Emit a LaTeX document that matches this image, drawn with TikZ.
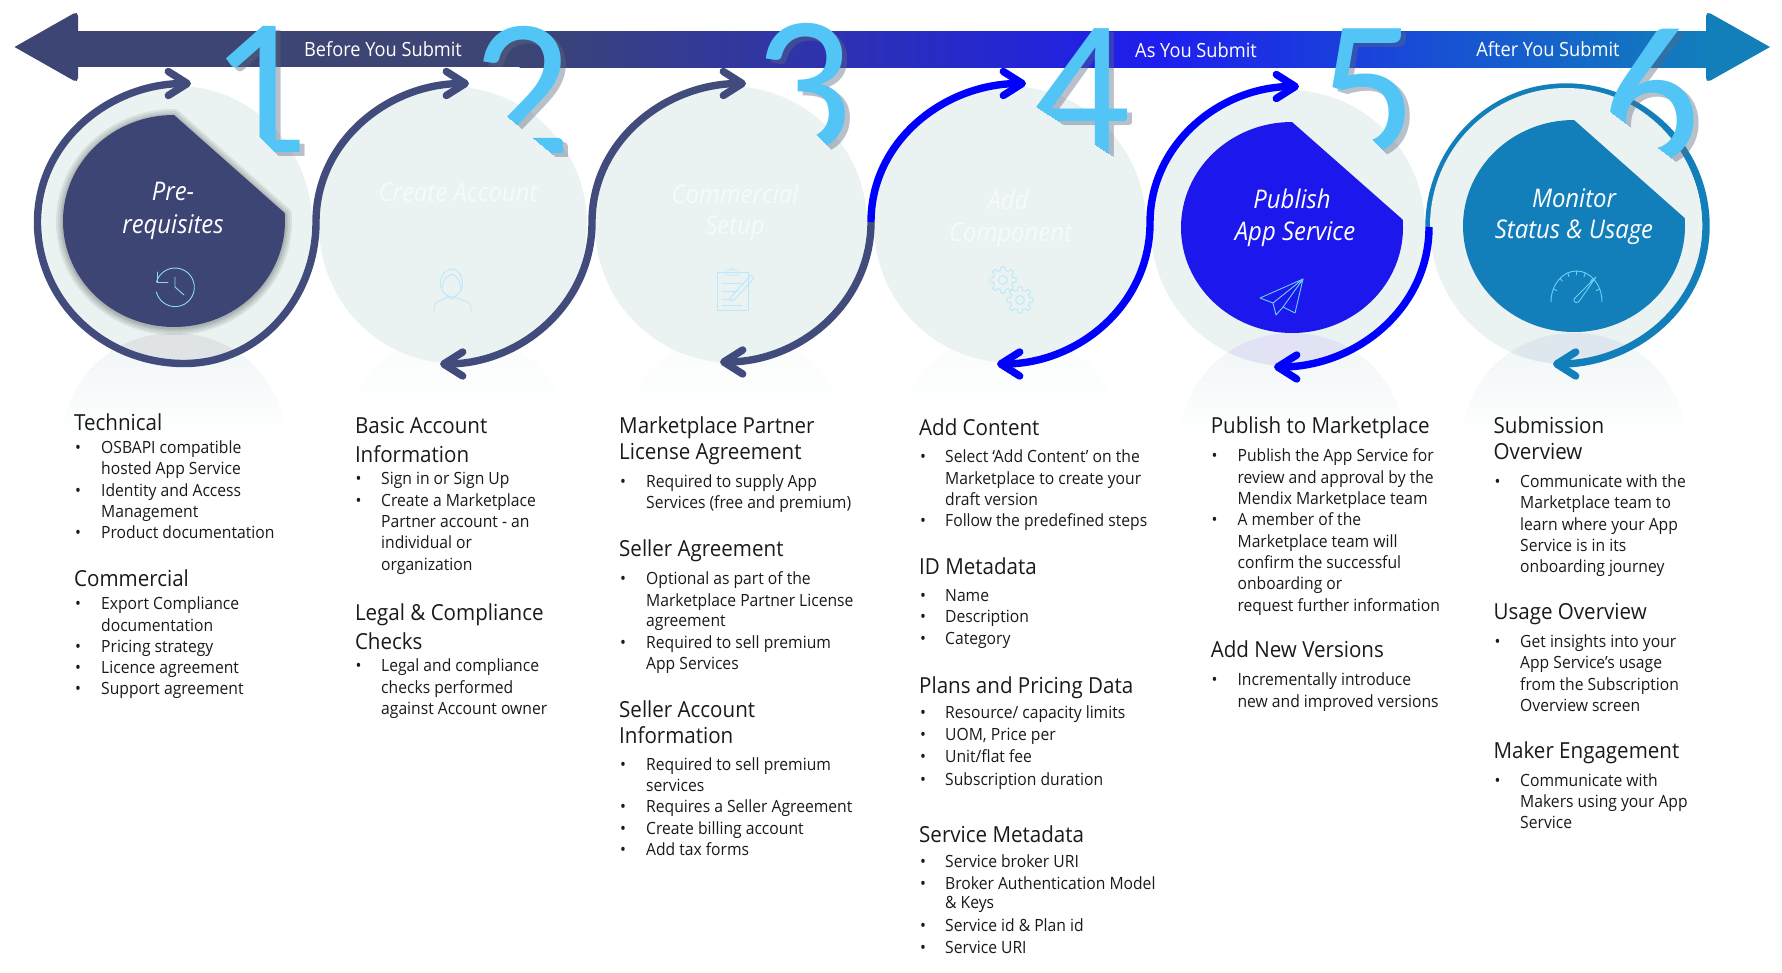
\documentclass[tikz,border=0pt]{standalone}
\usepackage{fontspec}
\setmainfont[FakeStretch=0.93]{Open Sans}
\newfontfamily\digf{Carlito}
\usetikzlibrary{arrows.meta,calc}
\definecolor{navy}{HTML}{3C4573}
\definecolor{ringnavy}{HTML}{414C7C}
\definecolor{ringblue}{HTML}{0000FF}
\definecolor{teal}{HTML}{127FBB}
\definecolor{petalblue}{HTML}{1C17EC}
\definecolor{midblue}{HTML}{1E1EEE}
\definecolor{disc}{HTML}{EAF2F2}
\definecolor{digitc}{HTML}{52C5F6}
\definecolor{ink}{HTML}{1A1A1A}
\definecolor{faded}{HTML}{F6FAFA}
\definecolor{reflA}{HTML}{EFF5F6}
\definecolor{reflB}{HTML}{FAFCFC}
\definecolor{ov1}{HTML}{DFE3E6}
\definecolor{ov5}{HTML}{E2E2F5}
\definecolor{ov6}{HTML}{DEE7EE}
\definecolor{icclock}{HTML}{8FD8F8}
\definecolor{icpale}{HTML}{BCE8FB}
\definecolor{icbright}{HTML}{6ECFF8}
\definecolor{digshadow}{HTML}{5A6A80}
\newcount\tnum
\def\ys{1}
\tikzset{
  x=1pt,y=1pt,
  hd/.style={anchor=base west,inner sep=0pt,text=ink,font=\fontsize{22.1}{24}\selectfont},
  bd/.style={anchor=base west,inner sep=0pt,text=ink,font=\fontsize{16.85}{20}\selectfont},
  bn/.style={anchor=base,inner sep=0pt,text=white,font=\fontsize{19.6}{22}\selectfont},
  lbl/.style={anchor=base,inner sep=0pt,text=white,font=\itshape\fontsize{25.7}{28}\selectfont},
  lblf/.style={lbl,text=faded},
  dig/.style={anchor=base,inner sep=0pt,text=digitc,font=\digf\fontsize{196}{196}\selectfont},
  tipped/.style={-{Straight Barb[round,length=19pt,width=24pt]}},
  ring/.style={line width=7.4pt,line cap=butt},
  icon/.style={line width=.9pt,line join=round,line cap=round,fill=none},
}
\newcommand\hh[2]{\global\advance\tnum by 1 \node[hd] (n\the\tnum) at (\hx,{-(400+(#1-400)*\ys)}) {#2};}
\newcommand\cc[2]{\global\advance\tnum by 1 \node[bd] (n\the\tnum) at (\tx,{-(400+(#1-400)*\ys)}) {#2};}
\newcommand\bb[2]{\global\advance\tnum by 1 \node[bd] (n\the\tnum) at (\bx,{-(400+(#1-400)*\ys)}) {•};\cc{#1}{#2}}
\newcommand\petalpath[4]{(#1,-#2) arc[start angle=90,end angle=364.3,x radius=#3,y radius=#4] -- cycle}
\newcommand\refl[2]{%
  \begin{scope}\clip (#1,-439) ellipse[x radius=111,y radius=106];
  \shade[top color=#2,bottom color=white] (#1-111,-333) rectangle (#1+111,-440);\end{scope}}
\newcommand\overl[5]{%
  \begin{scope}\clip (#1,-439) ellipse[x radius=111,y radius=106];
  \clip (#3,-#4) ellipse[x radius=#5,y radius=138];
  \fill[#2] (#1-111,-333) rectangle (#1+111,-440);\end{scope}}
\newcommand\gearic[3]{\draw[icon,#3] plot[domain=0:360,samples=97] ({#1+(11.5+1.7*min(1,max(-1,3*cos(8*\x))))*cos(\x)},{-#2+(11.5+1.7*min(1,max(-1,3*cos(8*\x))))*sin(\x)});
  \draw[icon,#3] (#1,-#2) circle[radius=4.5];}
% a numeral with its shadow, cut along the slanted edge that hides its lower part
\newcommand\numeral[7]{%
  \begin{scope}\clip (#4,-#5) -- (#6,-#7) -- (#6,0) -- (#4,0) -- cycle;
  \node[dig] (d#3) at (#1,-#2) {\rlap{\pgfsetfillopacity{.42}\color{digshadow}\raisebox{-4pt}{\kern5pt #3}}\pgfsetfillopacity{1}#3};
  \end{scope}}
\begin{document}
\begin{tikzpicture}
\useasboundingbox (0,0) rectangle (1782,-972);
\fill[white] (0,0) rectangle (1782,-972);
% banner
\fill[navy] (14.5,-47) [rounded corners=5] -- (78,-11) -- (78,-83) [sharp corners] -- cycle;
\fill[navy] (76,-31) rectangle (520,-67);
\shade[left color=navy,right color=midblue] (519.5,-31) rectangle (1150,-67);
\shade[left color=midblue,right color=teal] (1149.5,-31) rectangle (1710,-67);
\fill[teal] (1770,-47) [rounded corners=5] -- (1706,-11) -- (1706,-83) [sharp corners] -- cycle;
% named points
\coordinate (J1) at (316,-222);\coordinate (J2) at (592,-222);\coordinate (J3) at (871,-222);
\coordinate (J4) at (1150,-223);\coordinate (J5) at (1429,-227);
\coordinate (T1) at (191,-83.5);\coordinate (T2) at (469,-83.5);\coordinate (T3) at (746,-83.5);
\coordinate (T4) at (1026,-83.5);\coordinate (T5) at (1299,-86.5);
\coordinate (B1) at (440,-364);\coordinate (B2) at (720,-362);\coordinate (B3) at (997,-364);
\coordinate (B4) at (1274,-367);\coordinate (B5) at (1553,-364);
\coordinate (L1) at (37.5,-222);\coordinate (U1) at (184,-363.5);
\coordinate (U6) at (1566,-87);\coordinate (R6) at (1706,-226);
% ring 6 upper part, under the numeral
\draw[ring,teal] (J5) to[out=90,in=180] (U6) to[out=0,in=90] (R6);
% reflections
\refl{174}{reflA}
\refl{458}{reflB}
\refl{735}{reflB}
\refl{1010}{reflB}
\refl{1292}{reflA}
\refl{1574}{reflA}
% discs
\foreach \x/\y/\r in {177/224/135,453/225/134,731/224.5/136,1010/224.5/136,1288/228/137,1566/226/136}{
  \fill[disc] (\x,-\y) ellipse[x radius=\r,y radius=138];
}
\overl{174}{ov1}{177}{224}{135}
\overl{1292}{ov5}{1288}{228}{137}
\overl{1574}{ov6}{1566}{226}{136}
% numerals
\numeral{259}{152}{1}{200}{77}{320}{197}
\numeral{522}{153}{2}{470}{85.5}{590}{185.5}
\numeral{803}{150}{3}{750}{64}{870}{191}
\numeral{1081}{154}{4}{1020}{96.5}{1160}{186.6}
\numeral{1367}{154}{5}{1310}{77}{1430}{197}
\numeral{1651}{161}{6}{1600}{104}{1720}{195}
% petal 1 soft shadow
\foreach \w in {14,10,6,3}{\draw[black,opacity=.07,line width=\w pt,line join=round,yshift=-1pt] \petalpath{174}{115}{111}{106};}
\fill[navy] \petalpath{174}{115}{111}{106};
\fill[petalblue] \petalpath{1292}{122}{111}{105.5};
\fill[teal] \petalpath{1574}{120}{111}{106};
% flow arrows
\draw[ring,ringnavy,tipped] (J1) to[out=-90,in=0] (U1) to[out=180,in=-90] (L1) to[out=90,in=180] (T1);
\draw[ring,ringnavy,tipped] (J1) to[out=90,in=180] (T2);
\draw[ring,ringnavy,tipped] (J2) to[out=-90,in=0] (B1);
\draw[ring,ringnavy,tipped] (J2) to[out=90,in=180] (T3);
\draw[ring,ringnavy,tipped] (J3) to[out=-90,in=0] (B2);
\draw[ring,ringblue,tipped] (J3) to[out=90,in=180] (T4);
\draw[ring,ringblue,tipped] (J4) to[out=-90,in=0] (B3);
\draw[ring,ringblue,tipped] (J4) to[out=90,in=180] (T5);
\draw[ring,ringblue,tipped] (J5) to[out=-90,in=0] (B4);
\draw[ring,teal,tipped] (R6) to[out=-90,in=0] (B5);
% icons
\begin{scope}[icon,draw=icclock]
\draw (157,-282) -- (157,-272);
\draw (157,-282) -- (168,-282);
\draw (156.5,-282) arc[start angle=164,end angle=-166,radius=19.3];
\draw (175,-277) -- (175,-287) -- (184,-295);
\end{scope}
\begin{scope}[icon,draw=icpale]
\draw (451.5,-283) ellipse[x radius=11,y radius=14];
\draw (442,-288) .. controls (445,-270) and (458,-270) .. (461,-288);
\draw (446,-295) .. controls (448,-300) and (455,-300) .. (457,-295);
\draw (434,-313) -- (434,-307) .. controls (434,-302) and (441,-300) .. (446,-298);
\draw (471,-313) -- (471,-307) .. controls (471,-302) and (462,-300) .. (457,-298);
\draw (717,-272) rectangle (748,-310);
\draw (726,-275) -- (726,-270) -- (730,-270) -- (732,-268) -- (734,-270) -- (739,-270) -- (739,-275) -- cycle;
\draw (722,-283) -- (742,-283) (722,-291) -- (738,-291) (722,-299) -- (731,-299) (722,-305) -- (742,-305);
\draw (731,-297) -- (751,-275) -- (754,-278) -- (734,-300) -- (730,-301) -- cycle;
\end{scope}
\gearic{1003}{280}{draw=icpale}
\gearic{1020}{300}{draw=icpale}
\begin{scope}[icon,draw=icbright]
\draw (1303,-279) -- (1260,-298) -- (1273,-303) -- cycle;
\draw (1273,-303) -- (1276,-315) -- (1283,-307) -- (1295,-313) -- (1303,-279) -- (1283,-307);
\draw (1551,-302) arc[start angle=180,end angle=0,x radius=25.5,y radius=31];
\foreach \a in {25,50,70,90,110,130,155}{\draw ({1576.5+25.5*cos(\a)},{-302+31*sin(\a)}) -- ({1576.5+22*cos(\a)},{-302+27*sin(\a)});}
\draw (1596,-277) -- (1580,-300) .. controls (1578,-304) and (1573,-303) .. (1574,-299) -- cycle;
\end{scope}
% banner labels
\node[bn] (bn1) at (383,-56) {Before You Submit};
\node[bn] (bn2) at (1196,-57) {As You Submit};
\node[bn] (bn3) at (1548,-56) {After You Submit};
% disc labels
\node[lbl] (c1a) at (173,-200) {Pre-};
\node[lbl] (c1b) at (173,-233) {requisites};
\node[lblf] (c2) at (458,-201) {Create Account};
\node[lblf] (c3a) at (735,-203) {Commercial};
\node[lblf] (c3b) at (735,-234) {Setup};
\node[lblf] (c4a) at (1008,-209) {Add};
\node[lblf] (c4b) at (1010.5,-241) {Component};
\node[lbl] (c5a) at (1292,-208) {Publish};
\node[lbl] (c5b) at (1295,-240) {App Service};
\node[lbl] (c6a) at (1574,-207) {Monitor};
\node[lbl] (c6b) at (1574,-238) {Status \& Usage};
% column 1
\def\hx{74}\def\bx{75}\def\tx{101}
\hh{430}{Technical}
\bb{453.3}{OSBAPI compatible}\cc{474.7}{hosted App Service}
\bb{496.3}{Identity and Access}\cc{517.3}{Management}
\bb{538.3}{Product documentation}
\hh{586}{Commercial}
\bb{609.3}{Export Compliance}\cc{631}{documentation}
\bb{652.3}{Pricing strategy}\bb{673.3}{Licence agreement}\bb{694.3}{Support agreement}
% column 2
\def\hx{354.8}\def\bx{355.5}\def\tx{381}
\hh{433.7}{Basic Account}\hh{462}{Information}
\bb{484.3}{Sign in or Sign Up}
\bb{506.3}{Create a Marketplace}\cc{527.3}{Partner account - an}\cc{548.3}{individual or}\cc{570}{organization}
\hh{620}{Legal \& Compliance}\hh{649}{Checks}
\bb{671.7}{Legal and compliance}\cc{693.3}{checks performed}\cc{714.3}{against Account owner}
% column 3
\def\ys{0.9949}
\def\hx{619}\def\bx{620}\def\tx{646}
\hh{434.1}{Marketplace Partner}\hh{460.1}{License Agreement}
\bb{488}{Required to supply App}\cc{508.9}{Services (free and premium)}
\hh{557.7}{Seller Agreement}
\bb{585.6}{Optional as part of the}\cc{607.9}{Marketplace Partner License}\cc{628.1}{agreement}
\bb{650.1}{Required to sell premium}\cc{670.6}{App Services}
\hh{719}{Seller Account}\hh{745.1}{Information}
\bb{772.6}{Required to sell premium}\cc{793.5}{services}
\bb{814.7}{Requires a Seller Agreement}\bb{836.7}{Create billing account}\bb{857.6}{Add tax forms}
% column 4
\def\hx{919}\def\bx{920}\def\tx{945}
\hh{435.2}{Add Content}
\bb{463.1}{Select ‘Add Content’ on the}\cc{485.1}{Marketplace to create your}\cc{506}{draft version}
\bb{527.2}{Follow the predefined steps}
\hh{575.3}{ID Metadata}
\bb{602.4}{Name}\bb{624.1}{Description}\bb{646.1}{Category}
\hh{694.8}{Plans and Pricing Data}
\bb{720.1}{Resource/ capacity limits}\bb{742.5}{UOM, Price per}\bb{764.5}{Unit/flat fee}\bb{787.2}{Subscription duration}
\hh{844.4}{Service Metadata}
\bb{869.7}{Service broker URI}\bb{891.7}{Broker Authentication Model}\cc{911.2}{\& Keys}
\bb{934.3}{Service id \& Plan id}\bb{956.3}{Service URI}
% column 5
\def\hx{1210.6}\def\bx{1211.5}\def\tx{1237.4}
\hh{434.1}{Publish to Marketplace}
\bb{462}{Publish the App Service for}\cc{484.3}{review and approval by the}\cc{505.2}{Mendix Marketplace team}
\bb{526.5}{A member of the}\cc{548.5}{Marketplace team will}\cc{569.4}{confirm the successful}\cc{590.7}{onboarding or}\cc{612.7}{request further information}
\hh{659.3}{Add New Versions}
\bb{687.1}{Incrementally introduce}\cc{709.1}{new and improved versions}
% column 6
\def\hx{1493.4}\def\bx{1494.5}\def\tx{1520}
\hh{434.1}{Submission}\hh{460.1}{Overview}
\bb{488}{Communicate with the}\cc{509.3}{Marketplace team to}\cc{531.3}{learn where your App}\cc{552.2}{Service is in its}\cc{573.4}{onboarding journey}
\hh{621.1}{Usage Overview}
\bb{649}{Get insights into your}\cc{670.3}{App Service’s usage}\cc{692.3}{from the Subscription}\cc{713.5}{Overview screen}
\hh{760.8}{Maker Engagement}
\bb{788.7}{Communicate with}\cc{810}{Makers using your App}\cc{830.9}{Service}
\end{tikzpicture}
\end{document}
